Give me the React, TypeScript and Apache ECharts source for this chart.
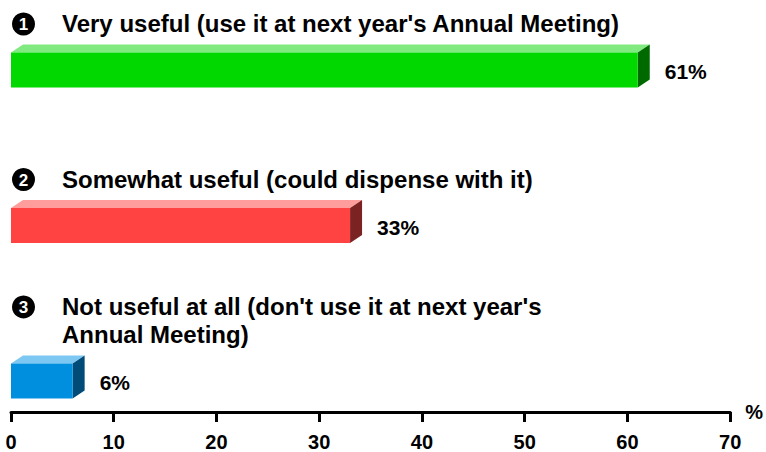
import React, { useEffect, useRef } from "react";
import * as echarts from "echarts";

const categories = [
  "Very useful (use it at next year's Annual Meeting)",
  "Somewhat useful (could dispense with it)",
  "Not useful at all (don't use it at next year's\nAnnual Meeting)",
];
const markers = ["1", "2", "3"];
const values = [61, 33, 6];
const xTicks = [0, 10, 20, 30, 40, 50, 60, 70];

const frontColors = ["#00D800", "#FF4242", "#008FDF"];
const topColors = ["#80EA80", "#FF9C9C", "#7DC8F2"];
const sideColors = ["#006A00", "#7B2323", "#004B78"];

const FONT = "'Liberation Sans', Arial, Helvetica, sans-serif";

export default function App() {
  const ref = useRef<HTMLDivElement>(null);
  useEffect(() => {
    if (!ref.current) return;
    const chart = echarts.init(ref.current, null, { renderer: "svg" });
    const barH = 35;
    const dx = 12;
    const dy = 8;
    const lineH = 28;
    chart.setOption({
      animation: false,
      backgroundColor: "#ffffff",
      grid: { left: 11, right: 34, top: 0, bottom: 39 },
      xAxis: {
        type: "value",
        min: xTicks[0],
        max: xTicks[xTicks.length - 1],
        interval: 10,
        name: "%",
        nameLocation: "end",
        nameGap: 15,
        nameTextStyle: { color: "#000", fontSize: 20, fontWeight: "bold", fontFamily: FONT },
        axisLine: { show: true, onZero: false, lineStyle: { color: "#000", width: 3 } },
        axisTick: { show: true, length: 10, lineStyle: { color: "#000", width: 3 } },
        axisLabel: { color: "#000", fontSize: 20, fontWeight: "bold", fontFamily: FONT, margin: 20 },
        splitLine: { show: false },
      },
      yAxis: {
        type: "value",
        inverse: true,
        min: -0.45,
        max: 2.2,
        show: false,
      },
      series: [
        {
          type: "custom",
          clip: false,
          data: values.map((v, i) => [v, i]),
          renderItem: (params: any, api: any) => {
            const v = api.value(0);
            const idx = api.value(1);
            const i = params.dataIndex;
            const p0 = api.coord([0, idx]);
            const p1 = api.coord([v, idx]);
            const x0 = p0[0];
            const x1 = p1[0];
            const yc = p0[1];
            const top = yc - barH / 2;
            const bot = yc + barH / 2;
            const label = categories[i];
            const nLines = label.split("\n").length;
            const textBottom = yc - 32;
            const circleY = textBottom - nLines * lineH + lineH / 2;
            return {
              type: "group",
              children: [
                {
                  type: "polygon",
                  shape: { points: [[x0, top], [x0 + dx, top - dy], [x1 + dx, top - dy], [x1, top]] },
                  style: { fill: topColors[i] },
                },
                {
                  type: "polygon",
                  shape: { points: [[x1, top], [x1 + dx, top - dy], [x1 + dx, bot - dy], [x1, bot]] },
                  style: { fill: sideColors[i] },
                },
                {
                  type: "rect",
                  shape: { x: x0, y: top, width: x1 - x0, height: barH },
                  style: { fill: frontColors[i] },
                },
                {
                  type: "text",
                  style: {
                    text: `${v}%`,
                    x: x1 + dx + 15,
                    y: yc + 2,
                    fill: "#000",
                    fontSize: 21,
                    fontWeight: "bold",
                    fontFamily: FONT,
                    align: "left",
                    verticalAlign: "middle",
                  },
                },
                {
                  type: "circle",
                  shape: { cx: 23.5, cy: circleY, r: 11.5 },
                  style: { fill: "#000" },
                },
                {
                  type: "text",
                  style: {
                    text: markers[i],
                    x: 23.5,
                    y: circleY + 1,
                    fill: "#fff",
                    fontSize: 17,
                    fontWeight: "bold",
                    fontFamily: FONT,
                    align: "center",
                    verticalAlign: "middle",
                  },
                },
                {
                  type: "text",
                  style: {
                    text: label,
                    x: 62,
                    y: textBottom,
                    fill: "#000",
                    fontSize: 24,
                    fontWeight: "bold",
                    fontFamily: FONT,
                    lineHeight: lineH,
                    align: "left",
                    verticalAlign: "bottom",
                  },
                },
              ],
            };
          },
        },
      ],
    });
    return () => chart.dispose();
  }, []);
  return (
    <div
      ref={ref}
      style={{ position: "fixed", left: 0, top: 0, width: 766, height: 452, background: "#fff" }}
    />
  );
}
